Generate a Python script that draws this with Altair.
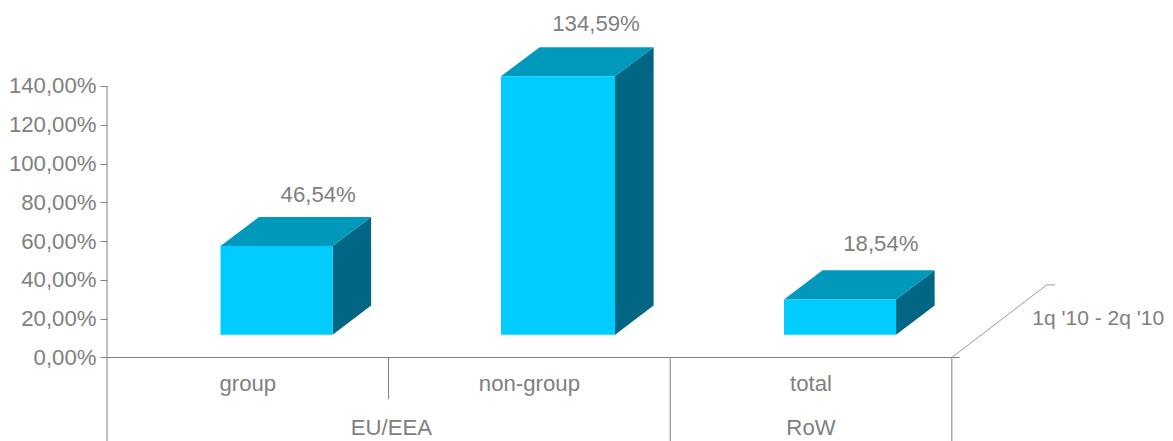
import altair as alt
import pandas as pd

categories = ["group", "non-group", "total"]
values = [46.54, 134.59, 18.54]
value_labels = ["46,54%", "134,59%", "18,54%"]
label_lift = [11.3, 11.9, 13.4]
label_dx = [0.148, 0.135, 0.145]
bar_starts = [0.403, 1.399, 2.404]
bar_widths = [0.398, 0.405, 0.398]
foreshorten = [0.982, 0.99, 0.98]
groups = ["EU/EEA", "RoW"]
group_centres = [1.01, 2.5]
series_label = "1q '10 - 2q '10"
y_ticks = [0, 20, 40, 60, 80, 100, 120, 140]

FONT = "Liberation Sans"
GREY = "#808080"
FRONT, TOP, SIDE = "#00CCFF", "#0099BB", "#006684"
FLOOR = 11.75
DX, DY = 0.137, 15.0
FS = 22.2

x_scale = alt.Scale(domain=[0, 3.757], nice=False, zero=False)
y_scale = alt.Scale(domain=[-43.06, 180.2], nice=False, zero=False)
y_axis = alt.Axis(
    values=y_ticks, title=None, domain=False, grid=False, tickSize=7, tickColor=GREY,
    labelFont=FONT, labelFontSize=FS, labelColor=GREY, labelPadding=4,
    labelExpr="replace(format(datum.value, '.2f'), '.', ',') + '%'",
)
X = lambda: alt.X("x:Q", scale=x_scale, axis=None)
Y = lambda: alt.Y("y:Q", scale=y_scale, axis=y_axis)

front, top_face, side_face, labels = [], [], [], []
for i, (c, v) in enumerate(zip(categories, values)):
    l, r = bar_starts[i], bar_starts[i] + bar_widths[i]
    t = FLOOR + v * foreshorten[i]
    front.append(dict(x=l, x2=r, y=FLOOR, y2=t))
    for x, y, y2 in [(l, t, t), (l + DX, t + DY, t), (r, t + DY, t), (r + DX, t + DY, t + DY)]:
        top_face.append(dict(c=c, x=x, y=y, y2=y2))
    for x, y, y2 in [(r, t, FLOOR), (r + DX, t + DY, FLOOR + DY)]:
        side_face.append(dict(c=c, x=x, y=y, y2=y2))
    labels.append(dict(x=(l + r) / 2 + label_dx[i], y=t + DY + label_lift[i], t=value_labels[i]))

bottom = -43.06
lines = [
    dict(s="axis", x=0, y=bottom), dict(s="axis", x=0, y=140),
    dict(s="base", x=0, y=0), dict(s="base", x=3.028, y=0),
    dict(s="d1", x=1, y=0), dict(s="d1", x=1, y=-21.5),
    dict(s="d2", x=2, y=0), dict(s="d2", x=2, y=bottom),
    dict(s="d3", x=3, y=0), dict(s="d3", x=3, y=bottom),
]
wall = [dict(s="wall", x=3, y=0), dict(s="wall", x=3.3365, y=37.4), dict(s="wall", x=3.366, y=37.4)]

line_layer = alt.Chart(pd.DataFrame(lines)).mark_line(color=GREY, strokeWidth=1).encode(
    x=X(), y=Y(), detail="s:N")
wall_layer = alt.Chart(pd.DataFrame(wall)).mark_line(color="#999999", strokeWidth=1).encode(
    x=X(), y=Y(), detail="s:N")
front_layer = alt.Chart(pd.DataFrame(front)).mark_rect(color=FRONT).encode(
    x=X(), x2="x2:Q", y=Y(), y2="y2:Q")
top_layer = alt.Chart(pd.DataFrame(top_face)).mark_area(color=TOP, line=False).encode(
    x=X(), y=Y(), y2="y2:Q", detail="c:N")
side_layer = alt.Chart(pd.DataFrame(side_face)).mark_area(color=SIDE, line=False).encode(
    x=X(), y=Y(), y2="y2:Q", detail="c:N")

def text_layer(rows, size=FS):
    return alt.Chart(pd.DataFrame(rows)).mark_text(
        font=FONT, fontSize=size, color=GREY, align="center", baseline="middle"
    ).encode(x=X(), y=Y(), text="t:N")

value_text = text_layer(labels)
cat_text = text_layer([dict(x=i + 0.5, y=-13.8, t=c) for i, c in enumerate(categories)])
group_text = text_layer([dict(x=x, y=-36.3, t=g) for x, g in zip(group_centres, groups)])
series_text = text_layer([dict(x=3.52, y=19.8, t=series_label)], size=21)

chart = alt.layer(
    line_layer, wall_layer, side_layer, top_layer, front_layer,
    value_text, cat_text, group_text, series_text,
).properties(
    width=1058, height=433,
    autosize=alt.AutoSizeParams(type="none"),
    padding={"left": 99, "top": 0, "right": 0, "bottom": 0},
    background="white",
).configure_view(stroke=None)

chart.save("out.html", embed_options={"renderer": "svg", "actions": False})
